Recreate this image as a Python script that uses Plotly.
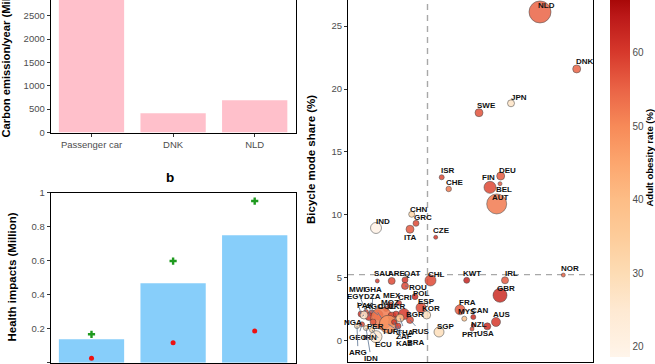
import plotly.graph_objects as go

# ---------------- data ----------------
categories = ["Passenger car", "DNK", "NLD"]
carbon_emission = [3000, 410, 690]            # Million tonnes / year (car bar cropped)
health_bar = [0.138, 0.467, 0.749]            # Million
health_plus = [0.167, 0.598, 0.951]
health_dot = [0.026, 0.118, 0.186]

countries = ["NLD", "DNK", "JPN", "SWE", "ISR", "CHE", "DEU", "FIN", "BEL", "AUT",
             "CZE", "CHN", "GRC", "ITA", "IND", "SAU", "ARE", "QAT", "CHL", "KWT",
             "IRL", "NOR", "GBR", "FRA", "MYS", "CAN", "AUS", "NZL", "PRT", "USA",
             "SGP", "KOR", "ESP", "POL", "ROU", "CRI", "MEX", "MOZ", "MWI", "GHA",
             "EGY", "DZA", "PAK", "AGO", "COL", "UKR", "BGR", "THA", "TUR", "BRA",
             "RUS", "ZAF", "KAZ", "PER", "GEO", "NGA", "IRN", "ECU", "ARG", "IDN"]
x_metric = [38.4, 45.74, 32.6, 26.2, 18.74, 20.14, 30.54, 28.4, 30.4, 29.74,
            17.54, 12.74, 13.6, 12.4, 5.6, 5.86, 8.74, 11.4, 16.5, 23.74,
            31.4, 43.06, 30.4, 22.4, 23.26, 25.06, 29.6, 25.06, 24.8, 27.86,
            18.2, 15.74, 14.6, 13.4, 11.4, 10.2, 8.4, 7.6, 3.6, 4.8,
            2.6, 4.2, 6.0, 6.74, 8.8, 9.6, 11.2, 10.4, 8.8, 8.06,
            12.4, 10.0, 9.2, 5.0, 2.8, 3.2, 5.6, 4.8, 1.8, 3.6]
bicycle_share = [26.13, 21.6, 18.87, 18.12, 12.99, 12.06, 13.09, 12.19, 12.48, 10.87,
                 8.22, 10.05, 9.33, 8.86, 8.96, 4.75, 4.75, 4.83, 4.79, 4.8,
                 4.8, 5.22, 3.61, 2.46, 1.75, 1.88, 1.49, 1.22, 0.93, 1.14,
                 0.69, 2.04, 2.62, 3.5, 4.35, 3.0, 2.84, 2.52, 2.28, 2.2,
                 2.12, 1.92, 2.04, 1.78, 1.96, 2.12, 2.12, 1.8, 1.49, 1.31,
                 1.65, 1.17, 1.49, 1.49, 1.3, 2.04, 0.32, 0.85, 1.16, 1.0]
bubble = [22, 8, 7, 8, 5, 5.5, 8, 12, 4, 20,
          4, 6, 6, 8, 11, 4, 7, 6, 11, 6,
          7, 4, 14, 10, 5, 5, 9, 4, 4, 7,
          10, 8, 10, 6, 7, 5, 6, 5, 5, 6,
          6, 8, 10, 22, 8, 6, 11, 8, 7, 18,
          7, 6, 5, 6, 5, 8, 12, 5, 5, 5]
obesity = [55, 55, 27, 57, 58, 52, 56, 58, 56, 52,
           60, 32, 58, 56, 19.5, 60, 58, 60, 58, 63,
           56, 55, 62, 56, 38, 62, 60, 60, 58, 62,
           29, 28, 58, 62, 58, 60, 58, 56, 58, 57,
           60, 60, 58, 52, 58, 60, 60, 40, 57, 48,
           58, 60, 60, 56, 58, 26, 25, 30, 30, 28]
# label offsets (px) of the repelled text labels
label_dx = [6, 8, 8, 7, 6, 6, 7, -2, 4, 4,
            6, 7, 7, 0, 7, 5, 5, 7, 6, 5,
            6, 7, 6, 7, 3, 7, 6, 6, -2, -2,
            7, 4, 5, 6, 13, 6, 2, 4, -9, 1,
            -5, 3, -13, -8, -6, 1, 11, 5, -2, 28,
            11, 6, 10, 2, -4, -11, -6, 11, 1, 5]
label_dy = [-6, -7, -6, -7, -7, -6, -6, -10, 6, -6,
            -7, -5, -6, 8, -6, -7, -7, -6, -6, -7,
            -7, -7, -7, -7, -7, -7, -7, -1, 5, 7,
            -6, -7, -6, -3, 2, -5, -9, -7, -23, -24,
            -18, -20, -10, -12, -10, -8, 0, 14, 10, 18,
            12, 11, 22, 5, 13, 7, 1, 14, 26, 30]
mean_x = 15.9
mean_y = 5.25
obesity_ticks = [20, 30, 40, 50, 60]

# ---------------- helpers ----------------
W, H = 655, 364
def px(p):
    return p / W
def py(p):
    return 1 - p / H

FONT = "Liberation Sans, Arial, sans-serif"
TICKC = "#4d4d4d"

fig = go.Figure()

fig.add_trace(go.Bar(x=categories, y=carbon_emission, marker_color="#FFC0CB",
                     marker_line_width=0, xaxis="x", yaxis="y", showlegend=False))
fig.add_trace(go.Bar(x=categories, y=health_bar, marker_color="#87CEFA",
                     marker_line_width=0, xaxis="x2", yaxis="y2", showlegend=False))
fig.add_trace(go.Scatter(x=categories, y=health_plus, mode="markers",
                         marker=dict(symbol="cross", size=6, color="#1f9a1f"),
                         xaxis="x2", yaxis="y2", showlegend=False))
fig.add_trace(go.Scatter(x=categories, y=health_dot, mode="markers",
                         marker=dict(symbol="circle", size=5, color="#ee1111"),
                         xaxis="x2", yaxis="y2", showlegend=False))

CMIN, CMAX = 18.6, 67.2
stops = [(18.6, "#fff5eb"), (20, "#fff2e4"), (25, "#fee9d2"), (30, "#fddcb4"),
         (35, "#fdcc9a"), (40, "#fdbd86"), (45, "#fca66e"), (50, "#f78a58"),
         (55, "#ea6446"), (60, "#d7392c"), (65, "#bb1818"), (67.2, "#a80808")]
cscale = [[(v - CMIN) / (CMAX - CMIN), c] for v, c in stops]

fig.add_trace(go.Scatter(
    x=x_metric, y=bicycle_share, mode="markers", xaxis="x3", yaxis="y3",
    showlegend=False,
    marker=dict(size=bubble, sizemode="diameter", color=obesity, cmin=CMIN, cmax=CMAX,
                colorscale=cscale, opacity=0.85,
                line=dict(color="rgba(50,50,50,0.8)", width=0.7),
                colorbar=dict(x=px(610), xanchor="left", xpad=0, y=1,
                              yanchor="top", ypad=0, len=356.7 / H, lenmode="fraction",
                              thickness=20, outlinewidth=0, tickvals=obesity_ticks,
                              ticks="", tickfont=dict(size=10, color=TICKC, family=FONT))),
))

annotations = []
for c, xv, yv, d, dx, dy in zip(countries, x_metric, bicycle_share, bubble, label_dx, label_dy):
    far = (dx * dx + dy * dy) > 150
    annotations.append(dict(
        x=xv, y=yv, xref="x3", yref="y3", text="<b>" + c + "</b>", showarrow=True,
        ax=dx, ay=dy, arrowhead=0, arrowwidth=0.8, standoff=0,
        arrowcolor="#5b7393" if far else "rgba(0,0,0,0)",
        font=dict(size=8, color="#111111", family=FONT),
    ))

title_font = dict(size=11.5, color="black", family=FONT)
annotations += [
    dict(text="<b>Carbon emission/year (Million tonnes)</b>", x=px(5), y=py(140),
         xref="paper", yref="paper", xanchor="center", yanchor="bottom",
         textangle=-90, showarrow=False, font=dict(size=11.2, color="black", family=FONT)),
    dict(text="<b>Health impacts (Million)</b>", x=px(11), y=py(277.5),
         xref="paper", yref="paper", xanchor="center", yanchor="middle",
         textangle=-90, showarrow=False, font=title_font),
    dict(text="<b>b</b>", x=px(170), y=py(177), xref="paper", yref="paper",
         xanchor="center", yanchor="middle", showarrow=False,
         font=dict(size=13.5, color="black", family=FONT)),
    dict(text="<b>Bicycle mode share (%)</b>", x=px(311), y=py(160),
         xref="paper", yref="paper", xanchor="center", yanchor="middle",
         textangle=-90, showarrow=False, font=title_font),
    dict(text="<b>Adult obesity rate (%)</b>", x=px(648.5), y=py(158),
         xref="paper", yref="paper", xanchor="center", yanchor="middle",
         textangle=-90, showarrow=False, font=dict(size=9.5, color="black", family=FONT)),
]

axis_common = dict(showline=True, linecolor="black", linewidth=1.1, mirror=True,
                   ticks="outside", ticklen=3, tickcolor="#333333", tickwidth=1,
                   showgrid=False, zeroline=False, automargin=False,
                   tickfont=dict(size=9.5, color=TICKC, family=FONT))

fig.update_layout(
    template="none",
    width=W, height=H, margin=dict(l=0, r=0, t=0, b=0, pad=0, autoexpand=False),
    paper_bgcolor="white", plot_bgcolor="white", bargap=0.2,
    font=dict(family=FONT), hovermode=False,
    xaxis=dict(domain=[px(50.7), px(295.5)], anchor="y", type="category",
               range=[-0.5, 2.5], **axis_common),
    yaxis=dict(domain=[py(132.5), 1], anchor="x", range=[0, 2835],
               tickvals=[0, 500, 1000, 1500, 2000, 2500], **axis_common),
    xaxis2=dict(domain=[px(50.7), px(295.5)], anchor="y2", type="category",
                range=[-0.5, 2.5], **{**axis_common, "showticklabels": False}),
    yaxis2=dict(domain=[py(362.7), py(192.7)], anchor="x2", range=[0, 1.0],
                tickvals=[0, 0.2, 0.4, 0.6, 0.8, 1], ticktext=["0", "0.2", "0.4", "0.6", "0.8", "1"],
                **axis_common),
    xaxis3=dict(domain=[px(348), px(593)], anchor="y3", range=[0, 49],
                **{**axis_common, "ticks": "", "showticklabels": False}),
    yaxis3=dict(domain=[py(362), 1], anchor="x3", range=[-1.693, 27.08],
                tickvals=[0, 5, 10, 15, 20, 25], **axis_common),
    annotations=annotations,
    shapes=[
        dict(type="line", xref="x3", yref="y3 domain", x0=mean_x, x1=mean_x, y0=0, y1=1,
             line=dict(color="#a8a8a8", width=1.4, dash="6px,5px"), layer="below"),
        dict(type="line", xref="x3 domain", yref="y3", x0=0, x1=1, y0=mean_y, y1=mean_y,
             line=dict(color="#a8a8a8", width=1.4, dash="6px,5px"), layer="below"),
    ],
)

fig.write_html("out.html", config={"displayModeBar": False},
               post_script="document.body.style.margin='0px';")
